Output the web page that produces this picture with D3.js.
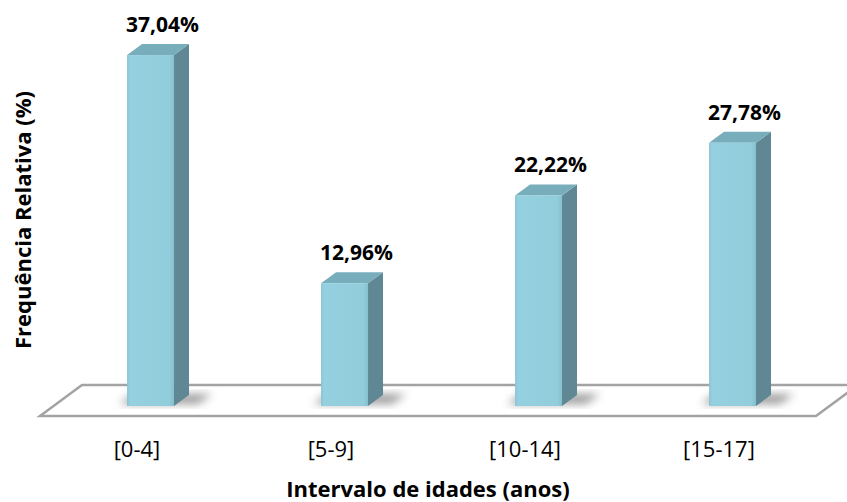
<!DOCTYPE html>
<html>
<head>
<meta charset="utf-8">
<script src="https://cdn.jsdelivr.net/npm/d3@7"></script>
<style>
  html, body { margin: 0; padding: 0; background: #fff; }
  svg { display: block; }
  text { font-family: "Open Sans", "Noto Sans", sans-serif; fill: #000; }
</style>
</head>
<body>
<svg id="chart" width="847" height="502"></svg>
<script>
// Age groups and relative frequency (%)
const categories = ["[0-4]", "[5-9]", "[10-14]", "[15-17]"];
const values = [37.04, 12.96, 22.22, 27.78];
const valueLabels = ["37,04%", "12,96%", "22,22%", "27,78%"];
const xTitle = "Intervalo de idades (anos)";
const yTitle = "Frequência Relativa (%)";

const svg = d3.select("#chart");
const defs = svg.append("defs");

// Floor plane (oblique projection): front edge and depth vector
const floorFrontY = 416, floorBackY = 385;
const floorLeft = 40, floorRight = 816;
const depthX = 42, depthY = floorBackY - floorFrontY; // (42, -31)

// Bars sit a little behind the floor's front edge
const barBaseY = 406;
const baseShiftX = (floorFrontY - barBaseY) * depthX / -depthY;
const barDX = 15, barDY = -11;

const x = d3.scaleBand().domain(categories).range([floorLeft, floorRight]);
const y = d3.scaleLinear().domain([0, 40]).range([barBaseY, barBaseY - 379]);
const barW = x.step() * 0.242;

// Shadow blur
const blur = defs.append("filter").attr("id", "soft")
  .attr("x", "-50%").attr("y", "-50%").attr("width", "200%").attr("height", "200%");
blur.append("feGaussianBlur").attr("stdDeviation", 4);

// Front-face gradient (slight bevel highlight at the edges)
const gFront = defs.append("linearGradient").attr("id", "front")
  .attr("x1", 0).attr("x2", 1).attr("y1", 0).attr("y2", 0);
[[0, "#86c3d3"], [0.06, "#95d0e0"], [0.9, "#92cddc"], [1, "#86c0cf"]]
  .forEach(([o, c]) => gFront.append("stop").attr("offset", o).attr("stop-color", c));

// Floor
svg.append("path")
  .attr("d", d3.line()([
    [floorLeft, floorFrontY],
    [floorLeft + depthX, floorBackY],
    [floorRight + depthX, floorBackY],
    [floorRight, floorFrontY]
  ]) + "Z")
  .attr("fill", "#fff")
  .attr("stroke", "#a3a3a3")
  .attr("stroke-width", 2.5)
  .attr("stroke-linejoin", "miter");

// Bars
const bars = svg.append("g").selectAll("g")
  .data(categories.map((c, i) => ({ c, v: values[i], label: valueLabels[i] })))
  .join("g");

const x0 = d => x(d.c) + x.bandwidth() / 2 + baseShiftX - barW / 2;
const x1 = d => x0(d) + barW;

// soft shadow cast on the floor, to the right of each bar
bars.append("path")
  .attr("d", d => d3.line()([
    [x0(d) - 8, barBaseY - 2],
    [x1(d) + 24, barBaseY - 2],
    [x1(d) + 38, barBaseY - 12],
    [x0(d) + 6, barBaseY - 12]
  ]) + "Z")
  .attr("fill", "#7d7d7d")
  .attr("opacity", 0.75)
  .attr("filter", "url(#soft)");

// side face
bars.append("path")
  .attr("d", d => d3.line()([
    [x1(d), y(d.v)],
    [x1(d) + barDX, y(d.v) + barDY],
    [x1(d) + barDX, barBaseY + barDY],
    [x1(d), barBaseY]
  ]) + "Z")
  .attr("fill", "#5f8894");

// top face
bars.append("path")
  .attr("d", d => d3.line()([
    [x0(d), y(d.v)],
    [x1(d), y(d.v)],
    [x1(d) + barDX, y(d.v) + barDY],
    [x0(d) + barDX, y(d.v) + barDY]
  ]) + "Z")
  .attr("fill", "#78adbc");

// front face
bars.append("rect")
  .attr("x", d => x0(d))
  .attr("y", d => y(d.v))
  .attr("width", barW)
  .attr("height", d => barBaseY - y(d.v))
  .attr("fill", "url(#front)");

// value labels
bars.append("text")
  .attr("x", d => x0(d) + barW / 2 + 12)
  .attr("y", d => y(d.v) - 23)
  .attr("text-anchor", "middle")
  .attr("font-size", 21)
  .attr("font-weight", "bold")
  .text(d => d.label);

// category axis labels along the floor's front edge
svg.append("g").selectAll("text")
  .data(categories)
  .join("text")
  .attr("x", d => x(d) + x.bandwidth() / 2)
  .attr("y", 457)
  .attr("text-anchor", "middle")
  .attr("font-size", 22)
  .attr("fill", "#222")
  .text(d => d);

// axis titles
svg.append("text")
  .attr("x", 428).attr("y", 497)
  .attr("text-anchor", "middle")
  .attr("font-size", 22)
  .attr("font-weight", "bold")
  .text(xTitle);

svg.append("text")
  .attr("transform", "translate(31,220) rotate(-90)")
  .attr("text-anchor", "middle")
  .attr("font-size", 22)
  .attr("font-weight", "bold")
  .text(yTitle);
</script>
</body>
</html>
